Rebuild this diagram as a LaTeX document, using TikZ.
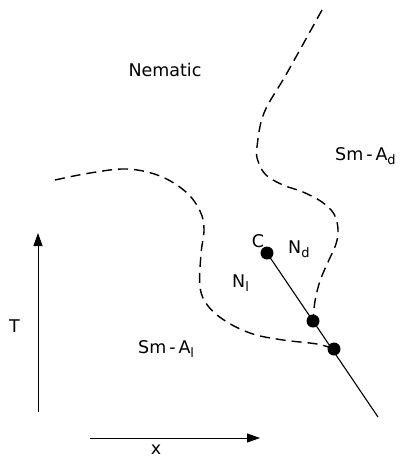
\documentclass[tikz,border=0pt]{standalone}
\usepackage{fontspec}
\setmainfont{DejaVu Sans}
\usetikzlibrary{arrows.meta}
\newcommand{\lowsub}[1]{\raisebox{-0.45ex}{\fontsize{13}{13}\selectfont #1}}
\begin{document}
\begin{tikzpicture}[x=1pt,y=-1pt,
  lbl/.style={inner sep=0pt, font=\fontsize{17.5}{17.5}\selectfont},
  phase/.style={dash pattern=on 10pt off 6pt, line width=1.4pt},
  dotnode/.style={circle, fill=black, inner sep=0pt, minimum size=13pt},
  axis/.style={line width=1pt, -{Triangle[length=13pt,width=9pt]}}]
\useasboundingbox (0,0) rectangle (401,459);
% points
\node[dotnode] (C) at (267,253) {};
\node[dotnode] (P1) at (313,321) {};
\node[dotnode] (P2) at (334,349) {};
\coordinate (E) at (378,417);
\coordinate (Rtop) at (322,10);
\coordinate (Lstart) at (55,180);
% solid line
\draw[line width=1.1pt] (C.center) -- (E);
% dashed boundaries
\draw[phase] plot[smooth, tension=0.6] coordinates {(Rtop) (287,73) (264,113) (257,147) (258,161) (266,175) (283,185) (303,192) (322,202) (334,214) (338,229) (336,244) (328,262) (320,281) (315,301) (P1.center)};
\draw[phase] plot[smooth, tension=0.6] coordinates {(Lstart) (90,173) (127,169) (160,176) (186,192) (200,211) (204,229) (201,254) (200,287) (208,306) (227,322) (253,334) (283,340) (317,344) (P2.center)};
% axes
\coordinate (T0) at (38,412);
\coordinate (T1) at (38,233);
\coordinate (X0) at (90,438);
\coordinate (X1) at (260,438);
\draw[axis] (T0) -- (T1);
\draw[axis] (X0) -- (X1);
% labels
\node[lbl] (nem) at (165,70) {Nematic};
\node[lbl, anchor=base west] (smad) at (335,160) {Sm\,-\,A\lowsub{d}};
\node[lbl] (clbl) at (258,241) {C};
\node[lbl, anchor=base west] (nd) at (288,253) {N\lowsub{d}};
\node[lbl, anchor=base west] (nl) at (232,287) {N\lowsub{l}};
\node[lbl, anchor=base west] (smal) at (138,353) {Sm\,-\,A\lowsub{l}};
\node[lbl, anchor=base west] (tlbl) at (9,332) {T};
\node[lbl] (xlbl) at (156,450) {x};
\end{tikzpicture}
\end{document}
